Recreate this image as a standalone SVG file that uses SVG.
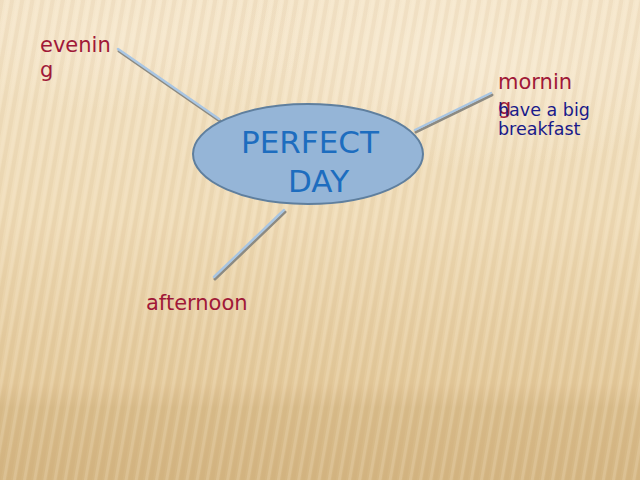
<svg xmlns="http://www.w3.org/2000/svg" width="640" height="480" viewBox="0 0 640 480">
<defs>
<linearGradient id="bg" x1="0" y1="0" x2="0" y2="1">
<stop offset="0" stop-color="#f4e5c9"/>
<stop offset="0.45" stop-color="#efdcb8"/>
<stop offset="0.8" stop-color="#e3c99b"/>
<stop offset="0.85" stop-color="#d9bd8c"/>
<stop offset="1" stop-color="#d4b683"/>
</linearGradient>
<pattern id="stripes" width="10" height="40" patternUnits="userSpaceOnUse" patternTransform="rotate(10)">
<rect width="4" height="40" fill="#b8955a" opacity="0.09"/>
<rect x="6" width="3" height="40" fill="#fff6e4" opacity="0.16"/>
</pattern>
<radialGradient id="glow" cx="0.5" cy="0.5" r="0.5">
<stop offset="0" stop-color="#f8ecd6" stop-opacity="0.8"/>
<stop offset="1" stop-color="#f8ecd6" stop-opacity="0"/>
</radialGradient>
<style>
.lbl{font-family:"DejaVu Sans",Verdana,sans-serif;font-size:21px;fill:#a01838}
.note{font-family:"DejaVu Sans",Verdana,sans-serif;font-size:17.5px;fill:#1a1a8a}
.title{font-family:"DejaVu Sans",Verdana,sans-serif;font-size:31px;fill:#1d6dbf}
.shadow{stroke:#8c8a82;stroke-width:3;stroke-linecap:round}
.line{stroke:#a9c6e3;stroke-width:2.5;stroke-linecap:round}
</style>
</defs>
<rect width="640" height="480" fill="url(#bg)"/>
<ellipse cx="470" cy="60" rx="260" ry="110" fill="url(#glow)"/>
<ellipse cx="120" cy="40" rx="200" ry="70" fill="url(#glow)" opacity="0.6"/>
<rect width="640" height="480" fill="url(#stripes)"/>
<g id="connectors">
<line class="shadow" x1="119" y1="51" x2="220" y2="121"/>
<line class="line" x1="118" y1="49" x2="219" y2="119"/>
<line class="shadow" x1="416" y1="132" x2="492" y2="95"/>
<line class="line" x1="415" y1="130" x2="491" y2="93"/>
<line class="shadow" x1="285" y1="212" x2="215" y2="279"/>
<line class="line" x1="284" y1="210" x2="214" y2="277"/>
</g>
<g id="center">
<ellipse cx="308" cy="154" rx="115" ry="50" fill="#95b5d7" stroke="#5f7f9e" stroke-width="2"/>
<text class="title" x="241" y="153">PERFECT</text>
<text class="title" x="288" y="192">DAY</text>
</g>
<g id="evening">
<text class="lbl" x="40" y="52">evenin</text>
<text class="lbl" x="40" y="77">g</text>
</g>
<g id="morning">
<text class="lbl" x="498" y="89">mornin</text>
<text class="lbl" x="498" y="114">g</text>
<text class="note" x="498" y="116">have a big</text>
<text class="note" x="498" y="135">breakfast</text>
</g>
<g id="afternoon">
<text class="lbl" x="146" y="310">afternoon</text>
</g>
</svg>
